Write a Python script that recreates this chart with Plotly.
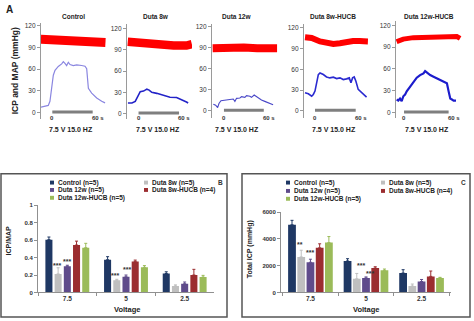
import plotly.graph_objects as go

W, H = 474, 321
def fx(p): return p / W
def fy(p): return 1 - p / H

# ---------------- Panel A data ----------------
panel_titles = ["Control", "Duta 8w", "Duta 12w", "Duta 8w-HUCB", "Duta 12w-HUCB"]
stim_label = "7.5 V 15.0 HZ"
a_title = "ICP and MAP (mmHg)"
a_ticks = [0, 30, 60, 90, 120]

ctrl_icp_t = [-16.9, -6, -3.5, -1, 1.5, 4, 8.9, 13.9, 16.4, 18.8, 21.3, 23.8, 26.3, 31.2, 36.2, 43.6, 48.6, 51.1, 53.6, 58.5, 66, 73.4, 78.4]
ctrl_icp = [7.6, 9.9, 15.7, 33.6, 51.5, 58.2, 63.6, 67.2, 70.3, 68, 64.9, 69.4, 66.3, 64.9, 65.8, 64.9, 64, 60.4, 33.6, 26.9, 20.2, 15.7, 13.4]
ctrl_map_t = [-17, 0, 20, 40, 60, 79]
ctrl_map = [101, 100, 99, 97.5, 97, 96.5]

d8_icp_t = [-15.7, -9.8, -4.9, -2.5, 2.5, 7.4, 12.3, 15.7, 19.6, 27, 36.8, 46.6, 56.4, 61.3, 66, 71, 73.5]
d8_icp = [15, 15, 17.3, 21.8, 30.9, 31.8, 34.5, 33.2, 30, 28.6, 25.5, 23.2, 22.7, 20.9, 18.2, 16.4, 15]
d8_map_t = [-16, 2, 27, 52, 71, 79]
d8_map = [101.5, 99.7, 97, 96, 96, 98]

d12_icp_t = [-16, -12.5, -9.5, -7.5, -4.5, 1.5, 9, 14, 16.5, 19, 24, 26.5, 31.5, 34, 39, 41.5, 45.5, 49, 51.5, 56.5, 61.5, 66.5, 74]
d12_icp = [9.7, 8.2, 4.8, 10.6, 14.5, 15.5, 16, 17, 13.6, 17.9, 18.4, 20.3, 19.4, 21.8, 20.8, 19.4, 22.7, 20.3, 18.4, 15.5, 13.6, 11.6, 8.7]
d12_map_t = [-17, 0, 15, 30, 50, 65, 80]
d12_map = [89, 90, 91, 90, 89, 88.5, 89]

d8h_icp_t = [-14.7, -9.8, -4.9, -2.5, 0, 2.5, 4.9, 7.4, 12.3, 17, 22, 27, 31.9, 36.8, 41.7, 46.5, 50.5, 53, 55.4, 57.8, 60.3, 63.7, 68.6, 73.5, 76]
d8h_icp = [26.2, 24.8, 21.4, 23.8, 28.6, 42.8, 52.4, 54.7, 52.4, 49, 47.6, 48.6, 46.6, 47.6, 45.2, 46.2, 47.6, 40.5, 47.6, 49, 42.8, 31, 26.2, 22.8, 20]
d8h_map_t = [-14.7, -4.9, 7.4, 17, 27, 36.8, 46.5, 56, 66, 78]
d8h_map = [106, 105, 100, 97.5, 96.5, 97.5, 99.5, 100.5, 100.5, 100]

d12h_icp_t = [-9.9, -7.7, -5.4, -3.2, -0.9, 1.4, 3.6, 8.1, 12.6, 17.1, 21.6, 26.2, 28.4, 30.7, 35.2, 39.7, 44.2, 48.7, 53.2, 57.7, 60, 62.2, 64.5, 66.7, 69.9]
d12h_icp = [18, 16.6, 19.3, 15.7, 22.5, 24.7, 29.2, 35.9, 42.7, 48, 51.6, 53.9, 57, 55.2, 51.6, 49.4, 47.1, 44.9, 42.7, 40.4, 29.2, 19.3, 18, 16.6, 16.6]
d12h_map_t = [-10, -1, 12.6, 35, 57, 71, 75.5]
d12h_map = [97.4, 101, 103, 104, 104.6, 104.6, 102]

icp_t = [ctrl_icp_t, d8_icp_t, d12_icp_t, d8h_icp_t, d12h_icp_t]
icp_v = [ctrl_icp, d8_icp, d12_icp, d8h_icp, d12h_icp]
map_t = [ctrl_map_t, d8_map_t, d12_map_t, d8h_map_t, d12h_map_t]
map_v = [ctrl_map, d8_map, d12_map, d8h_map, d12h_map]
stim_t = [0, 60]
stim_v = [1, 1]

# ---------------- Panels B & C data ----------------
voltages = ["7.5", "5", "2.5"]
groups = ["Control (n=5)", "Duta 8w (n=5)", "Duta 12w (n=5)", "Duta 8w-HUCB (n=4)", "Duta 12w-HUCB (n=5)"]
group_colors = ["#1F3864", "#BFBFBF", "#5F4B8B", "#9B2D30", "#9BBB59"]

ratio_vals = [
    [0.605, 0.375, 0.217],
    [0.213, 0.139, 0.075],
    [0.300, 0.180, 0.100],
    [0.543, 0.356, 0.200],
    [0.513, 0.288, 0.176],
]
ratio_err = [
    [0.03, 0.035, 0.02],
    [0.07, 0.012, 0.012],
    [0.012, 0.02, 0.02],
    [0.045, 0.015, 0.065],
    [0.05, 0.02, 0.02],
]
total_vals = [
    [5050, 2350, 1450],
    [2650, 1020, 480],
    [2250, 1080, 820],
    [3330, 1820, 1200],
    [3720, 1650, 1080],
]
total_err = [
    [330, 170, 250],
    [500, 400, 150],
    [230, 80, 150],
    [300, 100, 400],
    [450, 100, 50],
]
ratio_ticks = [0, 0.2, 0.4, 0.6, 0.8, 1]
ratio_ticktext = ["0", "0.2", "0.4", "0.6", "0.8", "1"]
total_ticks = [0, 2000, 4000, 6000]

# significance marks: (text, category index, x offset, y)
ratio_sig = [("***", 0, -0.17, 0.31), ("***", 0, 0.0, 0.36), ("***", 1, -0.19, 0.20), ("***", 1, 0.02, 0.26)]
total_sig = [("**", 0, -0.18, 3585), ("***", 0, -0.01, 3000), ("***", 1, -0.09, 1975), ("***", 1, 0.08, 1390)]

FONT = "Liberation Sans"
fig = go.Figure()
layout = dict(width=W, height=H, margin=dict(l=0, r=0, t=0, b=0),
              paper_bgcolor="white", plot_bgcolor="rgba(0,0,0,0)",
              showlegend=False, font=dict(family=FONT, color="#222"))
annotations = []
shapes = []

def ann(text, x, y, size, xref="paper", yref="paper", xanchor="center", angle=0, color="#222", xshift=0):
    annotations.append(dict(text=text, x=x, y=y, xref=xref, yref=yref, xanchor=xanchor, yanchor="middle",
                            textangle=angle, showarrow=False, xshift=xshift,
                            font=dict(size=size, color=color, family=FONT)))

# ----- Panel A geometry -----
xdom = [[41, 106], [127, 192], [212, 278], [304, 369], [396, 462]]
ydom = [[20, 118], [21.7, 118], [21.7, 116.7], [21.7, 116.7], [18.3, 117.3]]
xr = [[-16.8, 79.8], [-17.1, 79.2], [-18, 81.4], [-16.2, 79.6], [-10.8, 78]]
yr = [[-8.5, 124], [-7.3, 126], [-9.3, 123], [-9.4, 124.7], [-7.5, 125.9]]
map_w = [9, 8.5, 8, 6, 5]
icp_w = [1.2, 1.6, 1.1, 1.6, 2.2]
icp_c = ["#8A86E0", "#2323C8", "#4A48C8", "#2A2AD0", "#1C1CCC"]
title_x = [73, 156, 236, 333, 429]
stim_x = [71, 158, 237, 334, 427]
AX_COLOR = "#9A9A9A"

for i in range(5):
    n = i + 2
    xa, ya = f"x{n}", f"y{n}"
    fig.add_trace(go.Scatter(x=map_t[i], y=map_v[i], mode="lines", xaxis=xa, yaxis=ya,
                             line=dict(color="#FF0000", width=map_w[i]), hoverinfo="skip"))
    fig.add_trace(go.Scatter(x=icp_t[i], y=icp_v[i], mode="lines", xaxis=xa, yaxis=ya,
                             line=dict(color=icp_c[i], width=icp_w[i]), hoverinfo="skip"))
    fig.add_trace(go.Scatter(x=stim_t, y=stim_v, mode="lines", xaxis=xa, yaxis=ya,
                             line=dict(color="#7F7F7F", width=3), hoverinfo="skip"))
    layout[f"xaxis{n}"] = dict(domain=[fx(xdom[i][0]), fx(xdom[i][1])], range=xr[i], anchor=ya,
                               showline=False, showticklabels=False, showgrid=False, zeroline=False, ticks="")
    layout[f"yaxis{n}"] = dict(domain=[fy(ydom[i][1]), fy(ydom[i][0])], range=yr[i], anchor=xa,
                               showline=True, linecolor=AX_COLOR, linewidth=1.3, ticks="outside",
                               ticklen=3, tickcolor=AX_COLOR, tickwidth=1, tickvals=a_ticks, showgrid=False,
                               zeroline=False, showticklabels=True,
                               tickfont=dict(size=6.5, color="#333", family=FONT))
    if i == 0:
        layout[f"yaxis{n}"]["title"] = dict(text="<b>" + a_title + "</b>", standoff=4,
                                             font=dict(size=8.5, color="#222", family=FONT))
    ann("<b>" + panel_titles[i] + "</b>", fx(title_x[i]), fy(14), 6.5)
    ann("<b>" + stim_label + "</b>", fx(stim_x[i]), fy(129), 7)
    ann("<b>0</b>", stim_t[0], fy(117), 6, xref=xa, color="#333")
    ann("<b>60 s</b>", stim_t[1], fy(117), 6, xref=xa, xanchor="left", xshift=-3, color="#333")

ann("<b>A</b>", fx(9), fy(7), 10)

# ----- Panels B & C -----
def bar_panel(n, vals, errs, slot, bw, xd, ydpx, yrng, tickv, tickt, xrng):
    xa, ya = f"x{n}", f"y{n}"
    for g in range(5):
        off = (g - 2) * slot - bw / 2
        fig.add_trace(go.Bar(x=voltages, y=vals[g], name=groups[g], xaxis=xa, yaxis=ya,
                             marker=dict(color=group_colors[g], line=dict(width=0)),
                             width=bw, offset=off,
                             error_y=dict(type="data", array=errs[g], arrayminus=[0] * len(errs[g]),
                                          symmetric=False, color=group_colors[g], thickness=1, width=1.5),
                             hoverinfo="skip"))
    layout[f"xaxis{n}"] = dict(domain=[fx(xd[0]), fx(xd[1])], anchor=ya, type="category",
                               range=xrng, showline=True, linecolor="#909090", linewidth=1,
                               ticks="outside", tickson="boundaries", ticklen=3, tickcolor="#909090",
                               tickfont=dict(size=6.5, color="#333", weight="bold", family=FONT), showgrid=False)
    layout[f"yaxis{n}"] = dict(domain=[fy(ydpx[1]), fy(ydpx[0])], anchor=xa, range=yrng,
                               showline=True, linecolor="#909090", linewidth=1, ticks="outside",
                               ticklen=3, tickcolor="#909090", tickvals=tickv, ticktext=tickt,
                               showgrid=False, zeroline=False,
                               tickfont=dict(size=6, color="#333", weight="bold", family=FONT))

bar_panel(7, ratio_vals, ratio_err, 0.157, 0.12, [38, 214], [206, 295], [0, 1], ratio_ticks, ratio_ticktext, [-0.5, 2.5])
bar_panel(8, total_vals, total_err, 0.166, 0.14, [281, 451], [213, 295], [0, 6000], total_ticks,
          [str(v) for v in total_ticks], [-0.53, 2.53])

for txt, c, dx, yv in ratio_sig:
    ann("<b>" + txt + "</b>", c + dx, yv, 7, xref="x7", yref="y7", color="#333")
for txt, c, dx, yv in total_sig:
    ann("<b>" + txt + "</b>", c + dx, yv, 7, xref="x8", yref="y8", color="#333")

# frames
shapes.append(dict(type="rect", xref="paper", yref="paper", x0=fx(1), x1=fx(227), y0=fy(320), y1=fy(174),
                   line=dict(color="#555", width=1.5)))
shapes.append(dict(type="rect", xref="paper", yref="paper", x0=fx(242), x1=fx(470), y0=fy(320), y1=fy(174),
                   line=dict(color="#555", width=1.5)))

# manual legends
def legend(col_x, rows_y):
    pos = [(0, 0), (1, 0), (0, 1), (1, 1), (0, 2)]
    for g, (c, r) in enumerate(pos):
        x0 = col_x[c]
        y0 = rows_y[r]
        shapes.append(dict(type="rect", xref="paper", yref="paper", x0=fx(x0), x1=fx(x0 + 4),
                           y0=fy(y0 + 2), y1=fy(y0 - 2), fillcolor=group_colors[g], line=dict(width=0)))
        ann("<b>" + groups[g] + "</b>", fx(x0 + 5.5), fy(y0), 6.5, xanchor="left")

legend([50, 144], [183, 190.5, 198.5])
legend([286, 381], [183, 191.5, 199.5])

ann("<b>B</b>", fx(220), fy(183), 6.5, color="#333")
ann("<b>C</b>", fx(463), fy(183), 6.5, color="#333")
ann("<b>ICP/MAP</b>", fx(8), fy(242), 7, angle=-90)
ann("<b>Total ICP (mmHg)</b>", fx(250), fy(251), 7, angle=-90)
ann("<b>Voltage</b>", fx(127), fy(312), 7.5)
ann("<b>Voltage</b>", fx(366), fy(312), 7.5)

layout["annotations"] = annotations
layout["shapes"] = shapes
layout["barmode"] = "overlay"
fig.update_layout(**layout)
fig.write_html("out.html")
